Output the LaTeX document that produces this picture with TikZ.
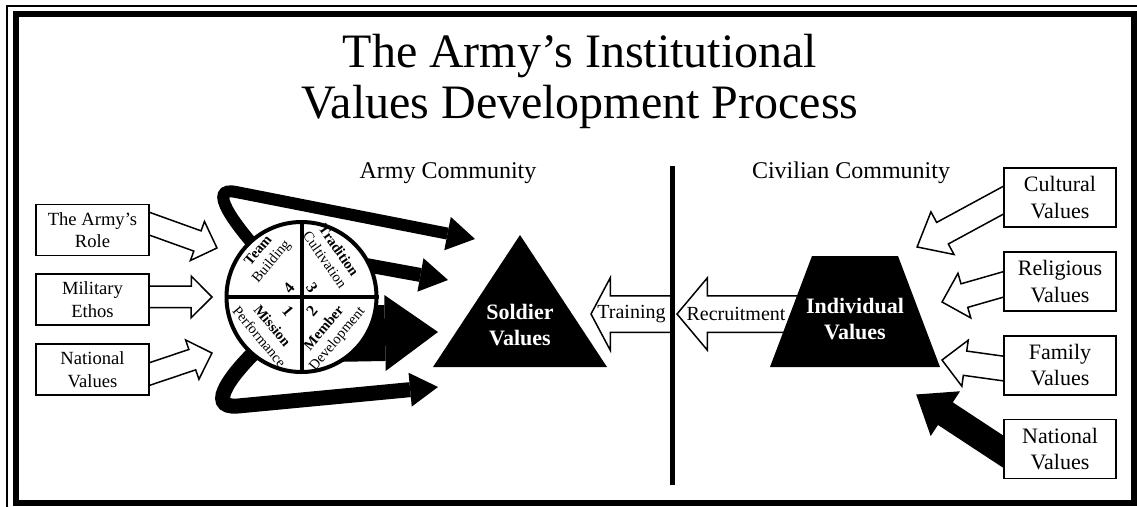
\documentclass[tikz,border=0pt]{standalone}
\usepackage{fontspec}
\setmainfont{Liberation Serif}
\usetikzlibrary{arrows.meta,calc,positioning,shapes.arrows}
\pgfdeclarelayer{back}
\pgfsetlayers{back,main}

% hollow block arrow, tail point to tip point
\newcommand\blockarrow[3][]{%
  \path let \p1=(#2), \p2=(#3), \n1={atan2(\y2-\y1,\x2-\x1)},
    \n2={veclen(\x2-\x1,\y2-\y1)} in
    node[barrow, anchor=tail, rotate=\n1, minimum height=\n2, #1] at (\p1) {};}

\begin{document}
\begin{tikzpicture}[x=1pt, y=-1pt,
  box/.style={draw, line width=1.8pt, fill=white, align=center, inner sep=0pt,
    minimum width=113pt, minimum height=51pt, font=\fontsize{18.6}{22.5}\selectfont},
  rbox/.style={box, minimum width=112pt, minimum height=59pt, font=\fontsize{22}{26.5}\selectfont},
  barrow/.style={single arrow, draw, line width=1.5pt, fill=white, inner xsep=0pt,
    outer sep=0pt, single arrow tip angle=90},
  sidearrow/.style={barrow, inner ysep=10pt, single arrow head extend=10pt},
  valarrow/.style={barrow, inner ysep=11.5pt, single arrow head extend=11pt},
  passarrow/.style={barrow, inner ysep=17.5pt, single arrow head extend=18pt},
  swoop/.style={line width=#1, -{Triangle[width=34pt,length=28pt,line width=0pt]}},
  quad/.style={align=center, inner sep=0pt, font=\fontsize{14.5}{17}\selectfont},
  num/.style={inner sep=0pt, font=\fontsize{16}{16}\selectfont\bfseries},
  vtext/.style={align=center, inner sep=0pt, text=white, font=\fontsize{22}{25.5}\selectfont\bfseries}]

\useasboundingbox (0,0) rectangle (1137,506);
% frame
\draw[line width=1.5pt] (7,520) -- (7,6) -- (1150,6);
\draw[line width=6pt] (15.5,14) rectangle (1133.5,503);

% titles
\node[anchor=base, font=\fontsize{48}{51}\selectfont] (title1) at (580,67) {The Army’s Institutional};
\node[anchor=base, font=\fontsize{48}{51}\selectfont] (title2) at (580,118) {Values Development Process};
\node[anchor=base, font=\fontsize{24}{28}\selectfont] (armyc) at (448,178) {Army Community};
\node[anchor=base, font=\fontsize{24}{28}\selectfont] (civc) at (851,178) {Civilian Community};

\draw[line width=5pt] (672.5,166) -- (672.5,485);

% free ends
\coordinate (s1) at (265,258); \coordinate (e1) at (475,239);
\coordinate (s2) at (355,263); \coordinate (e2) at (448,280);
\coordinate (s3) at (330,334); \coordinate (e3) at (438,332);
\coordinate (s4) at (262,345); \coordinate (e4) at (438,387);
\coordinate (in1) at (217,248); \coordinate (in2) at (212,297); \coordinate (in3) at (212,353);
\coordinate (out1) at (917,247); \coordinate (out2) at (942,302);
\coordinate (out3) at (942,360); \coordinate (out4) at (917,395);
\coordinate (trtail) at (672,314); \coordinate (trtip) at (591,314);
\coordinate (rctip) at (677,314);

% army side
\node[box] (role) at (92.5,230) {The Army’s\\Role};
\node[box, below=17pt of role] (ethos) {Military\\Ethos};
\node[box, below=17pt of ethos] (natl) {National\\Values};

\node[circle, draw, line width=4pt, fill=white, minimum size=150pt, inner sep=0pt] (wheel) at (301.5,297) {};
\draw[line width=4pt] (wheel.north) -- (wheel.south) (wheel.west) -- (wheel.east);
\node[quad, rotate=50] (team) at (265.5,256.5) {\textbf{Team}\\Building};
\node[quad, rotate=-55] (trad) at (332,255) {\textbf{Tradition}\\Cultivation};
\node[quad, rotate=-50] (miss) at (266,331) {\textbf{Mission}\\Performance};
\node[quad, rotate=50] (memb) at (331,334) {\textbf{Member}\\Development};
\node[num, rotate=50] (n4) at (289,288) {4};
\node[num, rotate=-55] (n3) at (312,288) {3};
\node[num, rotate=-50] (n1) at (288,311) {1};
\node[num, rotate=50] (n2) at (312,311) {2};

\fill (433,367) -- (520,235) -- (607,367) -- cycle;
\node[vtext] (soldier) at (520,325) {Soldier\\Values};

\node[inner sep=0pt, font=\fontsize{20}{20}\selectfont] (train) at ($(trtail)!.5!(trtip)$) {Training};
\node[inner sep=0pt, font=\fontsize{20}{20}\selectfont] (recr) at ($(rctip)+(59,0)$) {Recruitment};

% civilian side
\fill (770,367) -- (812,256) -- (898,256) -- (940,367) -- cycle;
\node[vtext] (indiv) at (855,319) {Individual\\Values};

\node[rbox] (cult) at (1060,197.5) {Cultural\\Values};
\node[rbox, below=23pt of cult] (relig) {Religious\\Values};
\node[rbox, below=23pt of relig] (family) {Family\\Values};
\node[rbox, below=23pt of family] (natlR) {National\\Values};

\begin{pgfonlayer}{back}
\draw[swoop=12pt] (s1) .. controls (232,222) and (207,186) .. (236,192) -- (e1);
\draw[swoop=14pt] (s2) -- (e2);
\draw[line width=56pt, -{Triangle[width=76pt,length=53pt,line width=0pt]}] (s3) -- (e3);
\draw[swoop=15pt] (s4) .. controls (235,370) and (203,409) .. (238,406) -- (e4);

\blockarrow[sidearrow]{$(role.east)+(-8,-9)$}{in1}
\blockarrow[sidearrow]{$(ethos.east)+(-8,-3)$}{in2}
\blockarrow[sidearrow]{$(natl.east)+(-8,7)$}{in3}

\blockarrow[valarrow, single arrow tip angle=80, single arrow head extend=12pt]{$(cult.west)+(8,-1.5)$}{out1}
\blockarrow[valarrow]{$(relig.west)+(7.6,1)$}{out2}
\blockarrow[valarrow]{$(family.west)+(8,4.5)$}{out3}
\blockarrow[valarrow, fill=black, single arrow tip angle=75, inner ysep=12pt, single arrow head extend=12.5pt]{$(natlR.west)+(6.6,7)$}{out4}

\blockarrow[passarrow, single arrow tip angle=124]{trtail}{trtip}
\blockarrow[passarrow, single arrow tip angle=100]{$(indiv.west)+(0,-5)$}{rctip}
\end{pgfonlayer}
\end{tikzpicture}
\end{document}
